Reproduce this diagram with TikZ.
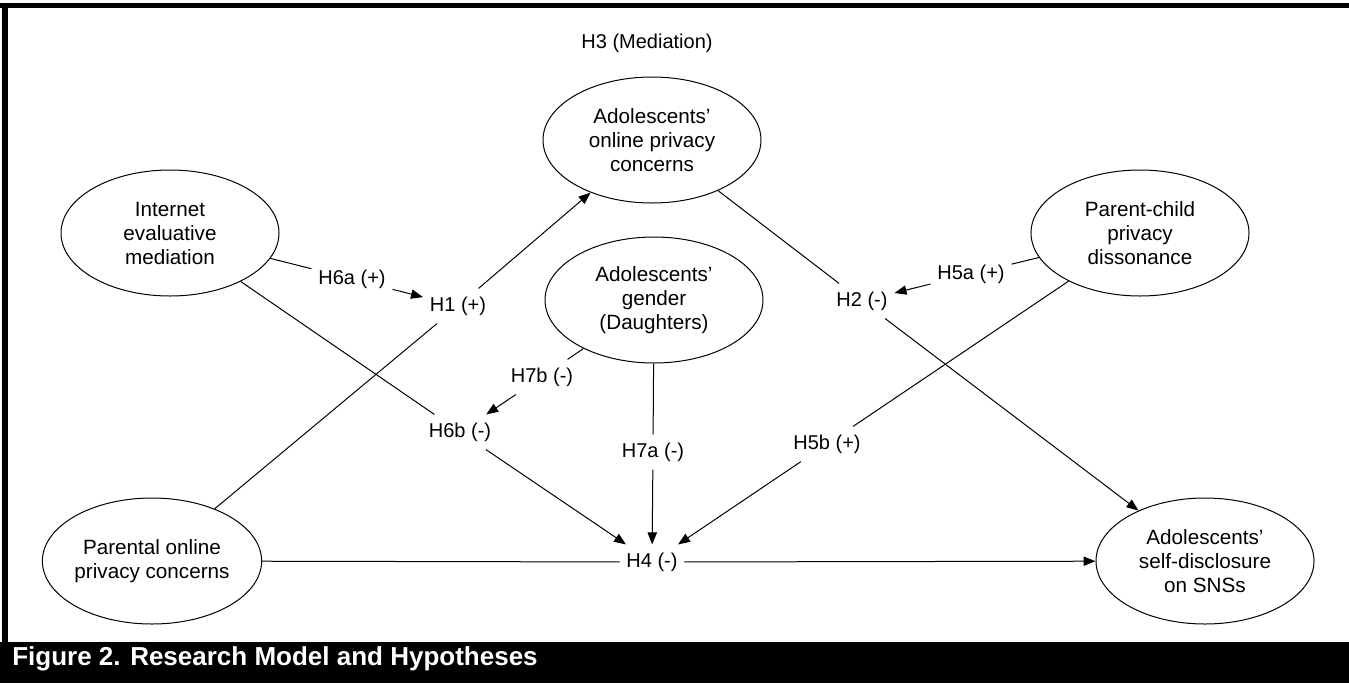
\documentclass[tikz,border=0pt]{standalone}
\usepackage{fontspec}
\setmainfont{Liberation Sans}
\usetikzlibrary{shapes.geometric,arrows.meta}
\begin{document}
\begin{tikzpicture}[x=0.75pt,y=-0.75pt,
  construct/.style={ellipse,draw,line width=0.75pt,minimum width=163.5pt,minimum height=94.5pt,inner sep=0pt,align=center,font=\fontsize{15.5pt}{18pt}\selectfont},
  hyp/.style={inner xsep=5pt,inner ysep=6pt,font=\fontsize{15pt}{18pt}\selectfont},
  link/.style={line width=0.75pt},
  arr/.style={line width=0.75pt,-{Triangle[length=9pt,width=7pt]}}]
\useasboundingbox (0,0) rectangle (1349,683);
\fill[white] (0,0) rectangle (1349,683);
\fill[black] (0,642) rectangle (1349,683);
\fill[black] (0,3) rectangle (1349,7.5);
\fill[black] (2,3) rectangle (8,642);
\node[anchor=base west,text=white,inner sep=0pt,font=\fontsize{19.5pt}{22pt}\selectfont\bfseries] (cap) at (12,665) {Figure 2. Research Model and Hypotheses};

\node[construct] (aopc) at (652,140) {Adolescents’\\online privacy\\concerns};
\node[construct] (iem) at (170,233) {Internet\\evaluative\\mediation};
\node[construct] (gen) at (654,300) {Adolescents’\\gender\\(Daughters)};
\node[construct] (pcd) at (1140,233) {Parent-child\\privacy\\dissonance};
\node[construct] (popc) at (152,561) {Parental online\\privacy concerns};
\node[construct] (sd) at (1205,561) {Adolescents’\\self-disclosure\\on SNSs};

\node[hyp] (h3) at (647,43) {H3 (Mediation)};
\node[hyp] (h6a) at (352,279) {H6a (+)};
\node[hyp] (h1) at (458,306) {H1 (+)};
\node[hyp] (h2) at (862,301) {H2 (-)};
\node[hyp] (h5a) at (971,274) {H5a (+)};
\node[hyp] (h7b) at (542,377) {H7b (-)};
\node[hyp] (h6b) at (460,432) {H6b (-)};
\node[hyp] (h7a) at (653,452) {H7a (-)};
\node[hyp] (h5b) at (827,444) {H5b (+)};
\node[hyp] (h4) at (652,562) {H4 (-)};

\draw[link] (iem) -- (h6a); \draw[arr] (h6a) -- (h1);
\draw[link] (popc) -- (h1); \draw[arr] (h1) -- (aopc);
\draw[link] (aopc) -- (h2); \draw[arr] (h2) -- (sd);
\draw[link] (pcd) -- (h5a); \draw[arr] (h5a) -- (h2);
\draw[link] (pcd) -- (h5b); \draw[arr] (h5b) -- (h4);
\draw[link] (iem) -- (h6b); \draw[arr] (h6b) -- (h4);
\draw[link] (gen) -- (h7b); \draw[arr] (h7b) -- (h6b);
\draw[link] (gen) -- (h7a); \draw[arr] (h7a) -- (h4);
\draw[link] (popc) -- (h4); \draw[arr] (h4) -- (sd);
\end{tikzpicture}
\end{document}
